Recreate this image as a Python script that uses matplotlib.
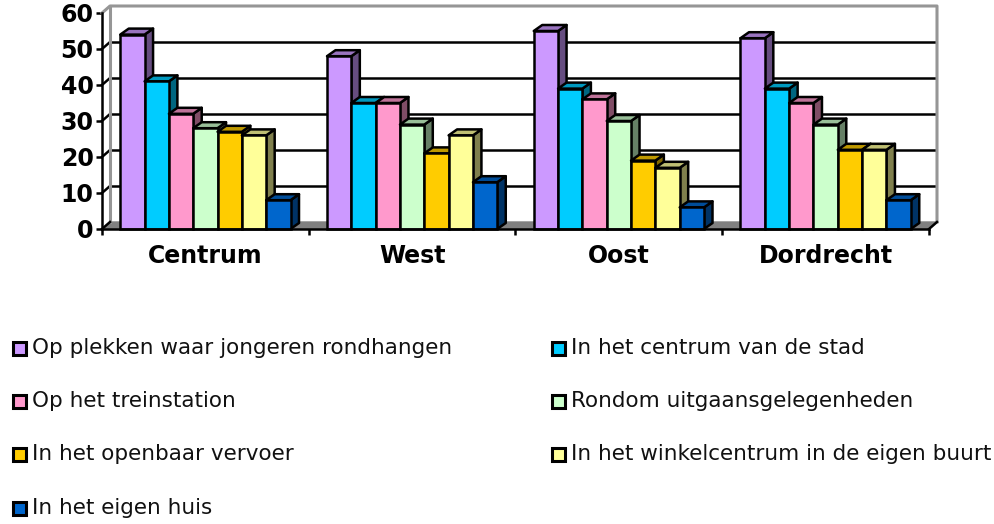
import matplotlib
matplotlib.use('Agg')
import matplotlib.pyplot as plt
from matplotlib.patches import Polygon, Rectangle
from matplotlib.colors import to_rgb

W, H = 995, 524

regions = ['Centrum', 'West', 'Oost', 'Dordrecht']
labels = ['Op plekken waar jongeren rondhangen', 'In het centrum van de stad',
          'Op het treinstation', 'Rondom uitgaansgelegenheden',
          'In het openbaar vervoer', 'In het winkelcentrum in de eigen buurt',
          'In het eigen huis']
colors = ['#CC99FF', '#00CCFF', '#FF99CC', '#CCFFCC', '#FFCC00', '#FFFF99', '#0066CC']

plekken = [54, 48, 55, 53]
centrum = [41, 35, 39, 39]
trein = [32, 35, 36, 35]
uitgaan = [28, 29, 30, 29]
vervoer = [27, 21, 19, 22]
winkel = [26, 26, 17, 22]
huis = [8, 13, 6, 8]
series = [plekken, centrum, trein, uitgaan, vervoer, winkel, huis]
yticks = [0, 10, 20, 30, 40, 50, 60]

# front plane of the fake 3d box, in pixels
left, right, bottom, top = 102, 929, 229, 13
px_x = (right - left) / len(regions)
px_y = (bottom - top) / 60
dx = 8 / px_x    # depth of the box
dy = 7 / px_y
bar_dx = 8.5 / px_x
bar_dy = 6 / px_y
bar_w = 1 / 8.5
lw = 1.8


def shade(col, f):
    return tuple(c * f for c in to_rgb(col))


fig = plt.figure(figsize=(W / 100, H / 100), dpi=100)
ax = fig.add_axes([left / W, 1 - bottom / H, (right - left) / W, (bottom - top) / H])
ax.set_xlim(0, len(regions))
ax.set_ylim(0, 60)
ax.patch.set_visible(False)

# floor and walls
ax.add_patch(Polygon([(0, 0), (len(regions), 0), (len(regions) + dx, dy), (dx, dy)],
                     fc='#808080', ec='#808080', lw=1, clip_on=False, zorder=1))
for t in yticks[1:-1]:
    ax.plot([dx, len(regions) + dx], [t + dy, t + dy], color='black', lw=lw, clip_on=False, zorder=1,
            solid_capstyle='butt')
    ax.plot([0, dx], [t, t + dy], color='black', lw=lw, clip_on=False, zorder=1)
ax.plot([0, dx, len(regions) + dx, len(regions) + dx], [60, 60 + dy, 60 + dy, dy],
        color='#969696', lw=2.2, clip_on=False, zorder=2)
ax.plot([dx, dx], [dy, 60 + dy], color='#969696', lw=2.2, clip_on=False, zorder=2)
ax.plot([0, dx], [0, dy], color='black', lw=lw, clip_on=False, zorder=3)
ax.plot([len(regions), len(regions) + dx], [0, dy], color='black', lw=lw, clip_on=False, zorder=3)

# bars, left to right so each one hides the side of the previous
z = 4
for i in range(len(regions)):
    for j, vals in enumerate(series):
        x0 = i + (0.75 + j) * bar_w
        x1 = x0 + bar_w
        v = vals[i]
        c = colors[j]
        ax.add_patch(Polygon([(x1, 0), (x1 + bar_dx, bar_dy), (x1 + bar_dx, v + bar_dy), (x1, v)],
                             fc=shade(c, 0.5), ec='black', lw=lw, joinstyle='round', clip_on=False, zorder=z))
        ax.add_patch(Polygon([(x0, v), (x1, v), (x1 + bar_dx, v + bar_dy), (x0 + bar_dx, v + bar_dy)],
                             fc=shade(c, 0.75), ec='black', lw=lw, joinstyle='round', clip_on=False, zorder=z))
        ax.add_patch(Rectangle((x0, 0), bar_w, v, fc=c, ec='black', lw=lw, clip_on=False, zorder=z))
        z += 1

for s in ['top', 'right']:
    ax.spines[s].set_visible(False)
for s in ['left', 'bottom']:
    ax.spines[s].set_linewidth(lw)
    ax.spines[s].set_zorder(z)
ax.set_yticks(yticks)
ax.set_yticklabels([str(t) for t in yticks], fontsize=17, fontweight='bold')
ax.tick_params(axis='y', length=4, width=lw, pad=2)
ax.set_xticks(range(len(regions) + 1))
ax.set_xticklabels([])
ax.tick_params(axis='x', which='major', length=4, width=lw)
ax.set_xticks([i + 0.5 for i in range(len(regions))], minor=True)
ax.set_xticklabels(regions, minor=True, fontsize=17, fontweight='bold')
ax.tick_params(axis='x', which='minor', length=0, pad=10.5)

# legend, two columns filled row by row
rows = [348, 401, 454, 508]
cols = [13, 552]
for k, lab in enumerate(labels):
    xs = cols[k % 2]
    yc = rows[k // 2]
    fig.add_artist(Rectangle((xs / W, 1 - (yc + 6.5) / H), 13 / W, 13 / H, transform=fig.transFigure,
                             fc=colors[k], ec='black', lw=2.2))
    fig.text((xs + 19) / W, 1 - yc / H, lab, fontsize=15.5, va='center', ha='left', color='#111111')

fig.savefig('out.png', dpi=100)
